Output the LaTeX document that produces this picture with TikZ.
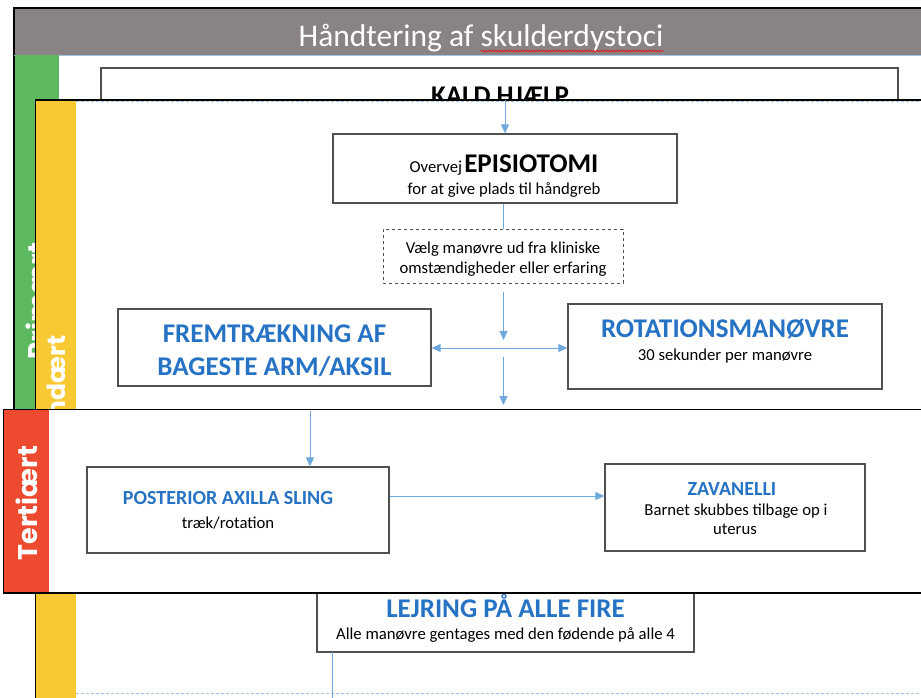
\documentclass[tikz,border=0pt]{standalone}
\usepackage{fontspec}
\setmainfont{Carlito}
\newfontfamily\lblfont{Poppins}
\usetikzlibrary{arrows.meta,decorations.pathmorphing}
\definecolor{greybar}{RGB}{137,132,131}
\definecolor{greenc}{RGB}{92,185,96}
\definecolor{yellowc}{RGB}{249,201,52}
\definecolor{redc}{RGB}{237,74,47}
\definecolor{bluetext}{RGB}{38,114,196}
\definecolor{arrowc}{RGB}{111,168,220}
\definecolor{selc}{RGB}{160,196,232}
\definecolor{boxline}{RGB}{80,80,80}
\newlength\sqw
\tikzset{
  box/.style={draw=boxline, line width=1.3pt, fill=white, inner sep=0pt},
  dbox/.style={draw=boxline, line width=1pt, dashed, fill=white, inner sep=0pt},
  txt/.style={anchor=base, inner sep=0pt},
  arr/.style={draw=arrowc, line width=1pt, -{Triangle[length=9pt,width=8pt]}},
  darr/.style={draw=arrowc, line width=1pt, {Triangle[length=9pt,width=8pt]}-{Triangle[length=9pt,width=8pt]}},
  ln/.style={draw=arrowc, line width=1pt},
  panelborder/.style={draw=black, line width=1.3pt},
  sel/.style={draw=selc, line width=0.8pt, dash pattern=on 3pt off 2pt},
  lbl/.style={rotate=90, text=white, font=\lblfont\bfseries\fontsize{27}{30}\selectfont},
  bighead/.style={txt, font=\bfseries\fontsize{27}{30}\selectfont, text=bluetext},
  midhead/.style={txt, font=\bfseries\fontsize{20}{24}\selectfont, text=bluetext},
  small/.style={txt, font=\fontsize{16.7}{20}\selectfont}
}
\begin{document}
\settowidth{\sqw}{\fontsize{31.5}{34}\selectfont skulderdystoci}
\begin{tikzpicture}[x=1pt,y=-1pt]
\useasboundingbox (0,0) rectangle (921,698);
\clip (0,0) rectangle (921,698);

% ---------- layer 1: primary ----------
\fill[white] (14,8) rectangle (940,590);
\fill[greybar] (14,9) rectangle (940,55);
\draw[panelborder] (14,590) -- (14,8) -- (940,8);
\draw[selc, line width=0.8pt] (14,55) -- (940,55);
\fill[greenc] (15,55.5) rectangle (59,560);
\node[lbl] (primlbl) at (37,301) {Primært};
\node[txt, text=white, font=\fontsize{31.5}{34}\selectfont] (title) at (481,47) {Håndtering af skulderdystoci};
\draw[red, line width=0.6pt, decorate, decoration={snake, amplitude=0.9pt, segment length=3.2pt}]
  ([xshift=-\sqw, yshift=-4pt]title.base east) -- ([yshift=-4pt]title.base east);
\node[box, minimum width=797pt, minimum height=60pt] (kald) at (499.5,98) {};
\node[txt, font=\bfseries\fontsize{27}{30}\selectfont] (kaldt) at (500,105) {KALD HJÆLP};

% ---------- layer 2: secondary ----------
\fill[white] (35.5,100) rectangle (940,710);
\fill[yellowc] (36,100.5) rectangle (76,710);
\draw[panelborder] (35.5,710) -- (35.5,100) -- (940,100);
\draw[sel] (76,101.8) -- (921,101.8);
\draw[sel] (76,693) -- (921,693);
\node[lbl, font=\lblfont\bfseries\fontsize{25}{28}\selectfont] (seklbl) at (56,408) {Sekundært};

% EPISIOTOMI
\node[box, minimum width=344pt, minimum height=69pt] (epi) at (505,168.5) {};
\node[txt] (epi1) at (504,172)
  {{\fontsize{16.7}{20}\selectfont Overvej} {\bfseries\fontsize{27}{30}\selectfont EPISIOTOMI}};
\node[small] (epi2) at (504,194) {for at give plads til håndgreb};

% choice (dashed)
\node[dbox, minimum width=240pt, minimum height=54pt] (valg) at (503,256) {};
\node[small] (valg1) at (503,253) {Vælg manøvre ud fra kliniske};
\node[small] (valg2) at (503,273) {omstændigheder eller erfaring};

% FREMTRÆKNING
\node[box, minimum width=313pt, minimum height=77pt] (frem) at (274.5,347.5) {};
\node[bighead] (frem1) at (274.5,342) {FREMTRÆKNING AF};
\node[bighead] (frem2) at (274.5,375) {BAGESTE ARM/AKSIL};

% ROTATION
\node[box, minimum width=314pt, minimum height=85pt] (rot) at (725,346.5) {};
\node[bighead] (rot1) at (725,337) {ROTATIONSMANØVRE};
\node[small] (rot2) at (725,360) {30 sekunder per manøvre};

% LEJRING
\node[box, minimum width=377pt, minimum height=70pt] (lejr) at (505.5,617) {};
\node[bighead] (lejr1) at (505.5,617) {LEJRING PÅ ALLE FIRE};
\node[small] (lejr2) at (505.5,639) {Alle manøvre gentages med den fødende på alle 4};

\coordinate (kaldout) at (505,100.5);
\coordinate (hubtop) at (503.5,292);
\coordinate (hub) at (503.5,348);
\coordinate (hubend) at (503.5,340);
\coordinate (hubbot) at (503.5,357);
\coordinate (tertin) at (503.5,405);
\coordinate (lejrout) at (332,652);
\coordinate (lejrend) at (332,698);
\draw[arr] (kaldout) -- (epi.north);
\draw[ln] (epi.south -| valg.north) -- (valg.north);
\draw[arr] (hubtop) -- (hubend);
\draw[darr] (frem.east |- hub) -- (rot.west |- hub);
\draw[arr] (hubbot) -- (tertin);
\draw[ln] (lejrout) -- (lejrend);

% ---------- layer 3: tertiary ----------
\fill[white] (3.5,409.5) rectangle (940,593);
\fill[redc] (4,410) rectangle (49,592.5);
\draw[panelborder] (940,409.5) -- (3.5,409.5) -- (3.5,593) -- (940,593);
\node[lbl] (terlbl) at (27,503) {Tertiært};

\node[box, minimum width=302pt, minimum height=86pt] (post) at (238,510) {};
\node[midhead] (post1) at (228,504.5) {POSTERIOR AXILLA SLING};
\node[small] (post2) at (228,528) {træk/rotation};

\node[box, minimum width=260pt, minimum height=87pt] (zav) at (735,507.5) {};
\node[midhead] (zav1) at (732,495.5) {ZAVANELLI};
\node[small] (zav2) at (736,515) {Barnet skubbes tilbage op i};
\node[small] (zav3) at (735,534) {uterus};

\coordinate (postin) at (310,410.5);
\draw[arr] (postin) -- (postin |- post.north);
\draw[arr] (post.east |- 0,496) -- (zav.west |- 0,496);
\end{tikzpicture}
\end{document}
